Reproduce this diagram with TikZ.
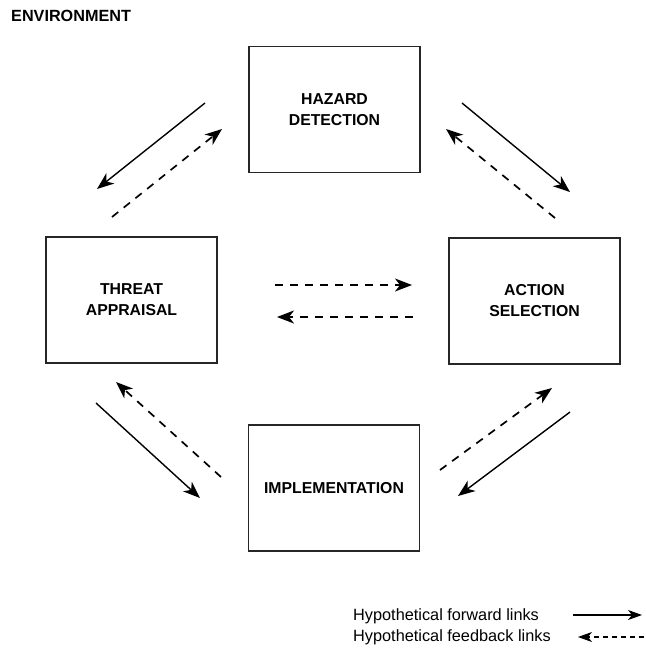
\documentclass[tikz,border=0pt]{standalone}
\usepackage{fontspec}
\setmainfont{Liberation Sans}
\usetikzlibrary{arrows.meta}
\begin{document}
\begin{tikzpicture}[x=1pt,y=-1pt,
  stagebox/.style={draw=black!85, line width=1.4pt, minimum width=171pt, minimum height=126pt,
    inner sep=0pt, align=center, font=\fontsize{15.8}{21}\selectfont\bfseries},
  fwd/.style={line width=1.4pt, -{Stealth[length=17pt,width=13pt,inset=5pt]}},
  fbk/.style={line width=1.7pt, dash pattern=on 8pt off 7pt, -{Stealth[length=17pt,width=13pt,inset=5pt]}},
  legtext/.style={anchor=west, inner sep=0pt, font=\fontsize{16.3}{18}\selectfont}]
\useasboundingbox (0,0) rectangle (646,657);
\node[anchor=west, inner sep=0pt, font=\fontsize{16.2}{18}\selectfont\bfseries] (env) at (11,16) {ENVIRONMENT};
\node[stagebox] (hazard) at (334.5,109.5) {HAZARD\\DETECTION};
\node[stagebox] (threat) at (131.5,300) {THREAT\\APPRAISAL};
\node[stagebox] (action) at (534.5,301) {ACTION\\SELECTION};
\node[stagebox] (impl) at (334,488) {IMPLEMENTATION};
% top-left pair
\coordinate (a1s) at (205,103); \coordinate (a1e) at (97,189);
\coordinate (b1s) at (112,217); \coordinate (b1e) at (222,129);
\draw[fwd] (a1s) -- (a1e);
\draw[fbk] (b1s) -- (b1e);
% top-right pair
\coordinate (a2s) at (462,103); \coordinate (a2e) at (570,192);
\coordinate (b2s) at (555,218); \coordinate (b2e) at (446,129);
\draw[fwd] (a2s) -- (a2e);
\draw[fbk] (b2s) -- (b2e);
% middle pair
\coordinate (m1s) at (275,285); \coordinate (m1e) at (412,285);
\coordinate (m2s) at (413,317); \coordinate (m2e) at (277,317);
\draw[fbk] (m1s) -- (m1e);
\draw[fbk] (m2s) -- (m2e);
% bottom-left pair
\coordinate (a3s) at (96,403); \coordinate (a3e) at (200,498);
\coordinate (b3s) at (221,477); \coordinate (b3e) at (116,382);
\draw[fwd] (a3s) -- (a3e);
\draw[fbk] (b3s) -- (b3e);
% bottom-right pair
\coordinate (a4s) at (570,412); \coordinate (a4e) at (458,496);
\coordinate (b4s) at (440,470); \coordinate (b4e) at (552,388);
\draw[fwd] (a4s) -- (a4e);
\draw[fbk] (b4s) -- (b4e);
% legend
\node[legtext] (lf) at (353,616) {Hypothetical forward links};
\node[legtext] (lb) at (353,637) {Hypothetical feedback links};
\coordinate (lfs) at (573,615); \coordinate (lfe) at (642,615);
\coordinate (lbs) at (644,637); \coordinate (lbe) at (578,637);
\draw[line width=1.1pt, -{Stealth[length=14pt,width=10pt,inset=4pt]}] (lfs) -- (lfe);
\draw[line width=1.1pt, dash pattern=on 5pt off 4pt, -{Stealth[length=14pt,width=10pt,inset=4pt]}] (lbs) -- (lbe);
\end{tikzpicture}
\end{document}
